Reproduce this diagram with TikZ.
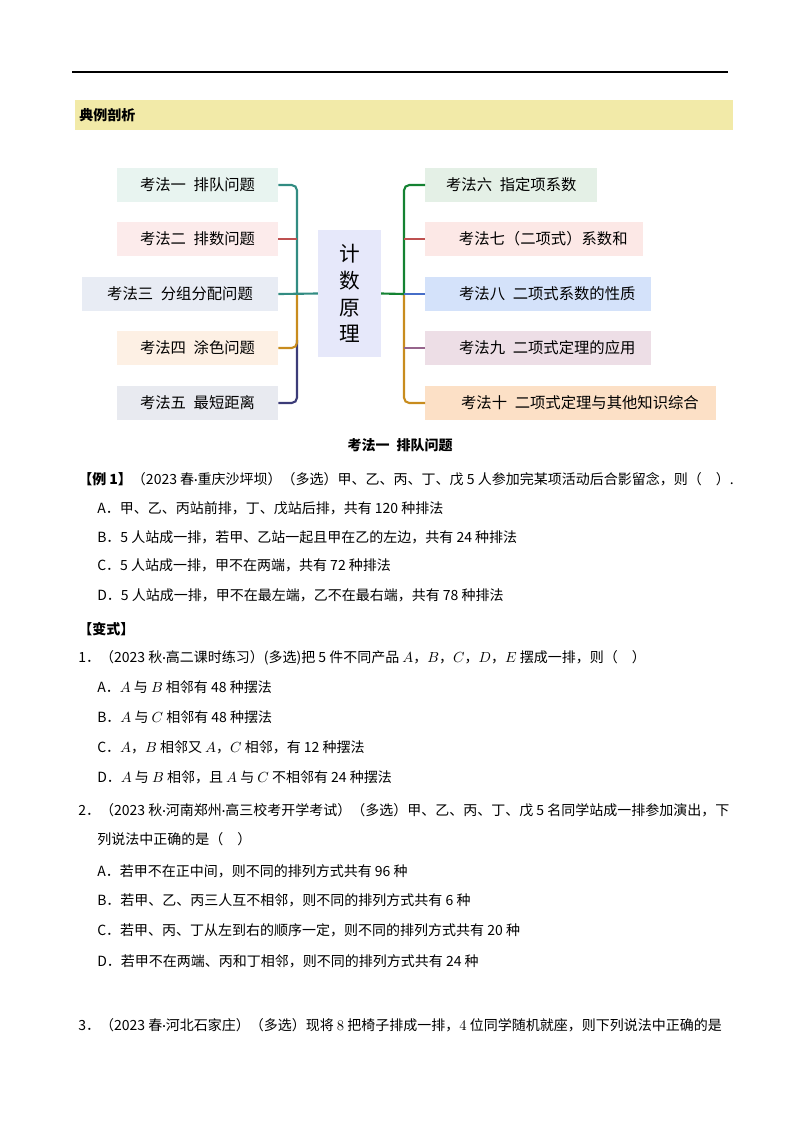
\documentclass[tikz,border=0pt]{standalone}
\usepackage{fontspec}
\setmainfont{Carlito}
\newfontfamily\cjk{Noto Sans CJK SC}
\newcommand\md{{\rmfamily ·}}
\usetikzlibrary{positioning}
\definecolor{cA}{RGB}{50,140,130}\definecolor{cB}{RGB}{190,80,80}\definecolor{cC}{RGB}{200,140,30}
\definecolor{cD}{RGB}{60,60,120}\definecolor{cE}{RGB}{20,130,50}\definecolor{cF}{RGB}{70,110,200}
\definecolor{cG}{RGB}{150,100,140}
\definecolor{fA}{RGB}{232,244,240}\definecolor{fB}{RGB}{252,235,235}\definecolor{fC}{RGB}{232,236,244}
\definecolor{fD}{RGB}{253,240,228}\definecolor{fE}{RGB}{232,234,240}\definecolor{fM}{RGB}{230,232,250}
\definecolor{fF}{RGB}{228,240,230}\definecolor{fG}{RGB}{252,232,230}\definecolor{fH}{RGB}{212,226,250}
\definecolor{fI}{RGB}{237,222,230}\definecolor{fJ}{RGB}{252,224,198}\definecolor{band}{RGB}{242,234,168}
\tikzset{
  box/.style={inner sep=0pt,minimum height=25pt,font=\cjk\fontsize{11.5}{13}\selectfont},
  rbox/.style={box,anchor=west,align=left},
  ln/.style={line width=1.6pt,rounded corners=4pt},
  txt/.style={anchor=west,inner sep=0pt,font=\cjk\fontsize{10.5}{12}\selectfont},
}
\begin{document}
\begin{tikzpicture}[x=0.75pt,y=-0.75pt]
\useasboundingbox (0,0) rectangle (800,1132);
\draw[line width=1.2pt] (72,72) coordinate (r1) -- (728,72) coordinate (r2);
\fill[band] (75,100) rectangle (733,130);
\node[txt,font=\cjk\bfseries\fontsize{10.5}{12}\selectfont] (hd) at (79,115) {典例剖析};
% boxes
\node[box,fill=fA,minimum width=121pt] (b1) at (197.5,185) {考法一\enspace 排队问题};
\node[box,fill=fB,minimum width=121pt] (b2) at (197.5,239) {考法二\enspace 排数问题};
\node[box,fill=fC,minimum width=147pt] (b3) at (180,294) {考法三\enspace 分组分配问题};
\node[box,fill=fD,minimum width=121pt] (b4) at (197.5,348) {考法四\enspace 涂色问题};
\node[box,fill=fE,minimum width=121pt] (b5) at (197.5,403) {考法五\enspace 最短距离};
\node[box,fill=fM,minimum width=47pt,minimum height=95pt,align=center,font=\cjk\fontsize{15.5}{20}\selectfont] (c) at (349.5,293.5) {计\\数\\原\\理};
\node[rbox,fill=fF,minimum width=129pt] (b6) at (425,185) {\hspace*{14pt}考法六\enspace 指定项系数\hspace*{14pt}};
\node[rbox,fill=fG,minimum width=163pt] (b7) at (425,239) {\hspace*{14pt}考法七（二项式）系数和};
\node[rbox,fill=fH,minimum width=169pt] (b8) at (425,294) {\hspace*{14pt}考法八\enspace 二项式系数的性质};
\node[rbox,fill=fI,minimum width=169pt] (b9) at (425,348) {\hspace*{14pt}考法九\enspace 二项式定理的应用};
\node[rbox,fill=fJ,minimum width=218pt] (b10) at (425,403) {\hspace*{14pt}考法十\enspace 二项式定理与其他知识综合};
\coordinate (lt) at (297,294);
\coordinate (rt) at (404,294);
% left connectors
\draw[ln,cD] (b5.east) -| (297,340);
\draw[ln,cC] (b4.east) -| (lt);
\draw[ln,cA] (b1.east) -| (lt);
\draw[ln,cB] (b2.east) -- (297,239);
\draw[ln,cA] (b3.east) -- (c.west);
% right connectors
\draw[ln,cC] (b10.west) -| (rt);
\draw[ln,cG] (b9.west) -- (404,348);
\draw[ln,cE] (b6.west) -| (rt);
\draw[ln,cB] (b7.west) -- (404,239);
\draw[ln,cF] (b8.west) -- (rt);
\draw[ln,cE] (c.east) -- (rt);
% text
\node[inner sep=0pt,font=\cjk\bfseries\fontsize{10.5}{12}\selectfont] (t0) at (400,445) {考法一\enspace 排队问题};
\node[txt] (t1) at (78,479) {\textbf{【例 1】}（2023 春\md 重庆沙坪坝）（多选）甲、乙、丙、丁、戊 5 人参加完某项活动后合影留念，则（\quad ）.};
\node[txt] (t2) at (97,508) {A．甲、乙、丙站前排，丁、戊站后排，共有 120 种排法};
\node[txt] (t3) at (97,537) {B．5 人站成一排，若甲、乙站一起且甲在乙的左边，共有 24 种排法};
\node[txt] (t4) at (97,565) {C．5 人站成一排，甲不在两端，共有 72 种排法};
\node[txt] (t5) at (97,595) {D．5 人站成一排，甲不在最左端，乙不在最右端，共有 78 种排法};
\node[txt] (t6) at (78,629) {\textbf{【变式】}};
\node[txt] (t7) at (78,658) {1．（2023 秋\md 高二课时练习）(多选)把 5 件不同产品 $A$，$B$，$C$，$D$，$E$ 摆成一排，则（\quad ）};
\node[txt] (t8) at (97,687) {A．$A$ 与 $B$ 相邻有 48 种摆法};
\node[txt] (t9) at (97,717) {B．$A$ 与 $C$ 相邻有 48 种摆法};
\node[txt] (t10) at (97,747) {C．$A$，$B$ 相邻又 $A$，$C$ 相邻，有 12 种摆法};
\node[txt] (t11) at (97,777) {D．$A$ 与 $B$ 相邻，且 $A$ 与 $C$ 不相邻有 24 种摆法};
\node[txt] (t12) at (78,810) {2．（2023 秋\md 河南郑州\md 高三校考开学考试）（多选）甲、乙、丙、丁、戊 5 名同学站成一排参加演出，下};
\node[txt] (t13) at (97,839) {列说法中正确的是（\quad ）};
\node[txt] (t14) at (97,871) {A．若甲不在正中间，则不同的排列方式共有 96 种};
\node[txt] (t15) at (97,900) {B．若甲、乙、丙三人互不相邻，则不同的排列方式共有 6 种};
\node[txt] (t16) at (97,930) {C．若甲、丙、丁从左到右的顺序一定，则不同的排列方式共有 20 种};
\node[txt] (t17) at (97,961) {D．若甲不在两端、丙和丁相邻，则不同的排列方式共有 24 种};
\node[txt] (t18) at (78,1025) {3．（2023 春\md 河北石家庄）（多选）现将 $8$ 把椅子排成一排，$4$ 位同学随机就座，则下列说法中正确的是};
\end{tikzpicture}
\end{document}
